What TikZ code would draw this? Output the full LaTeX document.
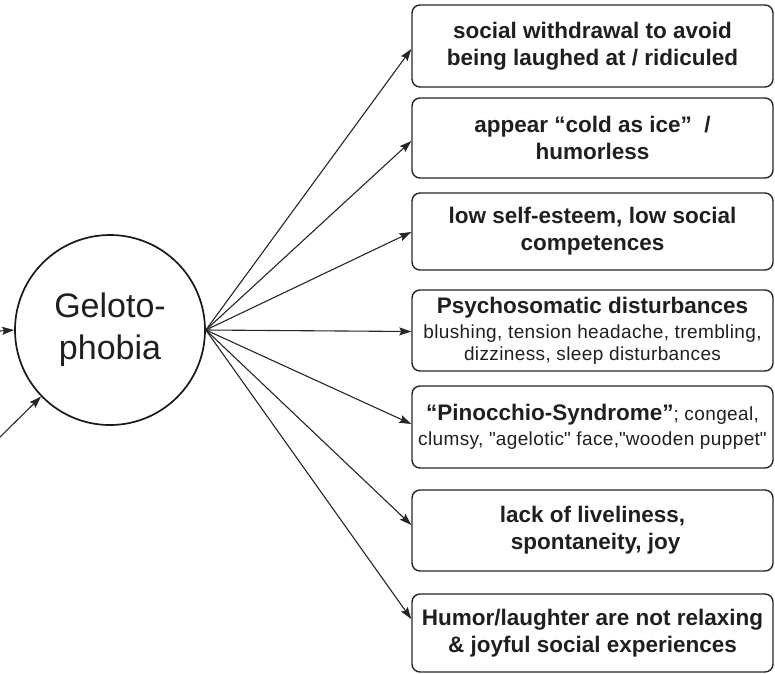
\documentclass[tikz,border=0pt]{standalone}
\usepackage{fontspec}
\setmainfont{Liberation Sans}
\usetikzlibrary{arrows.meta,calc}
\newcommand\smallfnt{\fontsize{19}{22}\selectfont\mdseries\addfontfeature{LetterSpace=2}}
\begin{document}
\begin{tikzpicture}[x=1pt,y=-1pt,
  box/.style={draw=black!85, line width=1.4pt, rounded corners=8pt, minimum width=361pt,
    align=center, inner sep=0pt, font=\fontsize{22.5}{27}\selectfont\bfseries, text=black!88},
  arr/.style={-{Stealth[length=12pt,width=8pt,inset=2pt]}, line width=1.1pt, draw=black!85},
]
\useasboundingbox (0,0) rectangle (775,673);
\node[circle, draw=black!90, line width=1.7pt, minimum size=190pt, inner sep=0pt,
  font=\fontsize{34}{42}\selectfont, align=center, text=black!88] (gel) at (110,330) {Geloto-\\phobia};
\node[box, minimum height=82pt] (b1) at (592.5,46) {social withdrawal to avoid\\being laughed at / ridiculed};
\node[box, minimum height=80pt] (b2) at (592.5,138) {appear “cold as ice”\ \ /\\humorless};
\node[box, minimum height=77pt] (b3) at (592.5,231.5) {low self-esteem, low social\\competences};
\node[box, minimum height=81pt] (b4) at (592.5,330.5) {Psychosomatic disturbances\\[-2pt]{\smallfnt blushing, tension headache, trembling,}\\[-5pt]{\smallfnt dizziness, sleep disturbances}};
\node[box, minimum height=82pt] (b5) at (592.5,427) {“Pinocchio-Syndrome”{\smallfnt; congeal,}\\[-2pt]{\smallfnt clumsy, \textquotedbl agelotic\textquotedbl\ face,\textquotedbl wooden puppet\textquotedbl}};
\node[box, minimum height=81pt] (b6) at (592.5,530.5) {lack of liveliness,\\\ spontaneity, joy};
\node[box, minimum height=78pt] (b7) at (592.5,633) {Humor/laughter are not relaxing\\\& joyful social experiences};
\coordinate (in1) at (0,331);
\coordinate (in2) at (0,437);
\draw[arr] (in1) -- (gel.west);
\draw[arr] (in2) -- (gel.224);
\draw[arr] (gel.east) -- ($(b1.west)+(0,3)$);
\draw[arr] (gel.east) -- ($(b2.west)+(0,3)$);
\draw[arr] (gel.east) -- ($(b3.west)+(0,0.5)$);
\draw[arr] (gel.east) -- ($(b4.west)+(0,1)$);
\draw[arr] (gel.east) -- ($(b5.west)+(0,-3)$);
\draw[arr] (gel.east) -- ($(b6.west)+(0,-5.5)$);
\draw[arr] (gel.east) -- ($(b7.west)+(0,-14)$);
\end{tikzpicture}
\end{document}
